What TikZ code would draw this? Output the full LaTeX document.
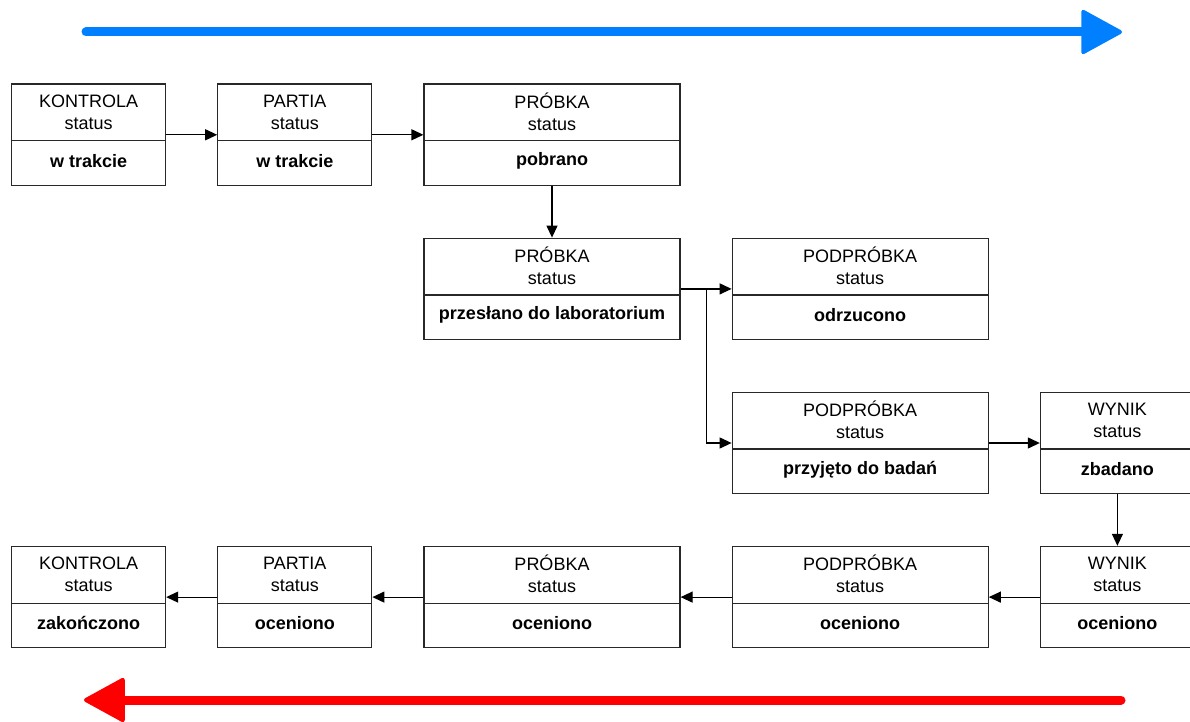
\documentclass[tikz,border=0pt]{standalone}
\usepackage{fontspec}
\setmainfont{Liberation Sans}
\usetikzlibrary{arrows.meta, positioning, calc, shapes.multipart}
\definecolor{boxline}{RGB}{40,40,40}
\definecolor{fwdblue}{RGB}{0,128,255}
\definecolor{backred}{RGB}{255,0,0}
\newcommand{\statfont}{\fontsize{18}{22}\selectfont}
% box text: entity name + "status" on top, status value in bold below
\newcommand{\stat}[3]{\parbox[c][55.5pt][c]{#1}{\centering #2\\status\par\vspace{1pt}}\nodepart{two}\parbox[c][43.5pt][c]{#1}{\centering\bfseries #3\par\vspace{4pt}}}
\tikzset{
  statbox/.style={rectangle split, rectangle split parts=2, draw=boxline, line width=1.2pt,
              inner sep=0pt, font=\statfont},
  conn/.style={-{Triangle[length=12pt,width=11pt]}, line width=1.2pt, draw=black},
  fwd/.style={-{Triangle[length=43pt,width=46pt,round,line width=4pt]}, line width=9pt, draw=fwdblue, line cap=round},
  back/.style={-{Triangle[length=43pt,width=46pt,round,line width=4pt]}, line width=9pt, draw=backred, line cap=round},
}
\begin{document}
\begin{tikzpicture}[x=1pt, y=-1pt, node distance=51.5pt and 51pt]
    \useasboundingbox (0,0) rectangle (1190,722);
    \clip (0,0) rectangle (1190,722);

    % direction arrows
    \coordinate (fwdstart) at (86,32);
    \coordinate (fwdend) at (1122,32);
    \coordinate (backstart) at (1121,700);
    \coordinate (backend) at (84,700);
    \draw[fwd] (fwdstart) -- (fwdend);
    \draw[back] (backstart) -- (backend);

    % forward flow
    \node[statbox, anchor=north west] (kontrola1) at (11,83.5) {\stat{154pt}{KONTROLA}{w trakcie}};
    \node[statbox, right=of kontrola1] (partia1) {\stat{154pt}{PARTIA}{w trakcie}};
    \node[statbox, right=of partia1] (probka1) {\stat{256pt}{PRÓBKA}{pobrano}};
    \node[statbox, below=of probka1] (probka2) {\stat{256pt}{PRÓBKA}{przesłano do laboratorium}};
    \node[statbox, right=of probka2] (podprobka2) {\stat{256pt}{PODPRÓBKA}{odrzucono}};
    \node[statbox, below=of podprobka2] (podprobka3) {\stat{256pt}{PODPRÓBKA}{przyjęto do badań}};
    \node[statbox, right=of podprobka3] (wynik3) {\stat{154pt}{WYNIK}{zbadano}};

    % backward flow
    \node[statbox, below=of wynik3] (wynik4) {\stat{154pt}{WYNIK}{oceniono}};
    \node[statbox, left=of wynik4] (podprobka4) {\stat{256pt}{PODPRÓBKA}{oceniono}};
    \node[statbox, left=of podprobka4] (probka4) {\stat{256pt}{PRÓBKA}{oceniono}};
    \node[statbox, left=of probka4] (partia4) {\stat{154pt}{PARTIA}{oceniono}};
    \node[statbox, left=of partia4] (kontrola4) {\stat{154pt}{KONTROLA}{zakończono}};

    \coordinate (split) at ($(probka2.east)!0.5!(podprobka2.west)$);

    \draw[conn] (kontrola1) -- (partia1);
    \draw[conn] (partia1) -- (probka1);
    \draw[conn] (probka1) -- (probka2);
    \draw[conn] (probka2) -- (podprobka2);
    \draw[conn] (probka2.east) -- (split) |- (podprobka3.west);
    \draw[conn] (podprobka3) -- (wynik3);
    \draw[conn] (wynik3) -- (wynik4);
    \draw[conn] (wynik4) -- (podprobka4);
    \draw[conn] (podprobka4) -- (probka4);
    \draw[conn] (probka4) -- (partia4);
    \draw[conn] (partia4) -- (kontrola4);
  \end{tikzpicture}
\end{document}
